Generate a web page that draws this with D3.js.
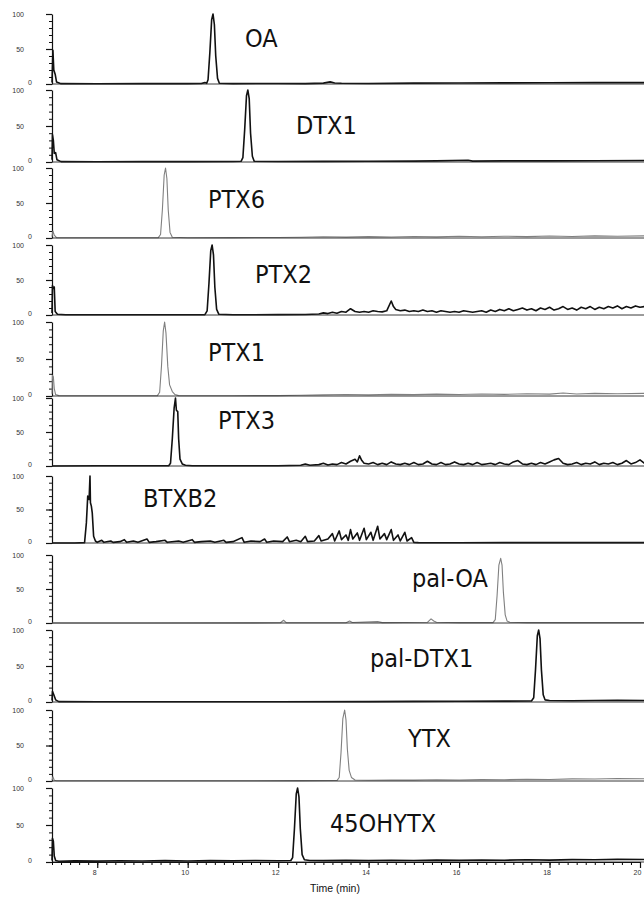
<!DOCTYPE html>
<html>
<head>
<meta charset="utf-8">
<script src="https://cdn.jsdelivr.net/npm/d3@7"></script>
<style>
  body { margin: 0; background: #fff; }
  svg { display: block; }
  .tickText { font-family: "Liberation Sans", Arial, sans-serif; font-size: 7px; fill: #333; }
  .compound { font-family: "DejaVu Sans Condensed", "DejaVu Sans", sans-serif; font-stretch: condensed; font-size: 25px; fill: #111; }
  .axisTitle { font-family: "Liberation Sans", Arial, sans-serif; font-size: 10.5px; fill: #111; }
</style>
</head>
<body>
<div id="chart"></div>
<script>
////////// DATA //////////
const compounds = ['OA', 'DTX1', 'PTX6', 'PTX2', 'PTX1', 'PTX3', 'BTXB2', 'pal-OA', 'pal-DTX1', 'YTX', '45OHYTX']
const traceTone = ['dark', 'dark', 'light', 'dark', 'light', 'dark', 'dark', 'light', 'dark', 'light', 'dark']
const xTicks = [8, 10, 12, 14, 16, 18, 20]
const yTicks = [0, 50, 100]

// [time (min), relative intensity (%)]
const oaTrace = [[7.00,2],[7.02,48],[7.04,20],[7.07,14],[7.10,3],[7.20,0.5],[8.0,0.4],[9.0,0.5],[10.0,0.6],[10.30,0.8],[10.38,2],[10.42,1],
  [10.45,6],[10.49,45],[10.53,92],[10.56,100],[10.59,85],[10.62,40],[10.66,8],[10.70,1],[11.0,0.5],[12.0,0.8],[12.6,0.6],[13.0,1.2],
  [13.15,3],[13.25,1.5],[13.4,1],[14.0,0.8],[15.0,1.2],[16.0,1.4],[17.0,1.6],[18.0,1.8],[19.0,2],[20.1,2]]

const dtx1Trace = [[7.00,3],[7.01,38],[7.03,30],[7.05,12],[7.08,13],[7.11,3],[7.2,0.5],[8,0.4],[9,0.5],[10,0.5],[11.0,0.6],[11.18,1],
  [11.22,6],[11.26,45],[11.30,92],[11.33,100],[11.36,88],[11.39,40],[11.43,8],[11.47,1],[12,0.6],[13,0.8],[14,1],[15,1.2],[15.5,1.5],
  [16.2,2.5],[16.3,1.2],[17,1.5],[18,1.6],[19,1.8],[20.1,2]]

const ptx6Trace = [[7.00,2],[7.02,10],[7.05,4],[7.1,0.5],[8,0.3],[9,0.4],[9.35,0.5],[9.40,5],[9.44,40],[9.48,90],[9.51,100],[9.54,85],
  [9.57,40],[9.61,8],[9.66,1],[10,0.4],[11,0.5],[12,0.8],[12.5,1],[13,1.8],[13.5,1.2],[14,2],[14.5,1.4],[15,2.2],[15.5,1.6],[16,2.4],
  [16.5,1.8],[17,2.6],[17.5,2],[18,2.8],[18.5,2.2],[19,3],[19.5,2.4],[20.1,3]]

const ptx2Trace = [[7.00,3],[7.01,42],[7.03,38],[7.05,40],[7.07,5],[7.12,1],[7.3,0.4],[8,0.3],[9,0.4],[10,0.4],[10.38,0.6],[10.43,6],
  [10.47,45],[10.51,92],[10.54,100],[10.57,86],[10.60,40],[10.64,8],[10.69,1],[11,0.4],[12,0.5],[12.6,0.8],[12.9,1.5],[13.0,3],[13.1,2],
  [13.2,4],[13.3,2.5],[13.4,5],[13.5,4],[13.6,9],[13.7,5],[13.8,4],[13.9,5],[14.0,4],[14.1,6],[14.2,5],[14.3,4.5],[14.4,6],[14.5,20],
  [14.55,12],[14.6,8],[14.7,6],[14.8,7],[14.9,5],[15.0,6],[15.1,5],[15.2,7],[15.3,5],[15.4,6],[15.5,4],[15.6,6],[15.7,5],[15.8,4],
  [15.9,5],[16.0,4],[16.1,6],[16.2,5],[16.3,4],[16.4,5],[16.5,6],[16.6,4],[16.7,7],[16.8,5],[16.9,8],[17.0,6],[17.1,9],[17.2,6],
  [17.3,8],[17.4,10],[17.5,7],[17.6,9],[17.7,6],[17.8,10],[17.9,8],[18.0,11],[18.1,7],[18.2,9],[18.3,12],[18.4,8],[18.5,10],[18.6,7],
  [18.7,11],[18.8,9],[18.9,12],[19.0,8],[19.1,11],[19.2,9],[19.3,12],[19.4,10],[19.5,13],[19.6,9],[19.7,12],[19.8,10],[19.9,13],
  [20.0,11],[20.1,12]]

const ptx1Trace = [[7.00,3],[7.01,28],[7.03,26],[7.05,10],[7.08,2],[7.15,0.5],[8,0.3],[9,0.3],[9.33,0.5],[9.38,5],[9.42,40],[9.46,88],
  [9.49,100],[9.52,85],[9.56,40],[9.60,15],[9.66,6],[9.72,2],[9.8,0.5],[10,0.3],[11,0.4],[12,0.5],[12.5,1],[13,1.5],[13.5,2],[14,1.5],
  [14.5,2.2],[15,1.8],[15.5,2.5],[16,2],[16.5,2.8],[17,2.2],[17.5,3],[18,2.5],[18.3,4],[18.6,2.8],[19,3.5],[19.5,3],[20.1,3.5]]

const ptx3Trace = [[7.00,0],[8,0.3],[9,0.3],[9.58,0.5],[9.62,4],[9.66,40],[9.70,85],[9.73,100],[9.75,82],[9.78,80],[9.80,40],[9.83,10],
  [9.88,3],[9.95,1],[10.1,0.3],[11,0.3],[12,0.4],[12.5,1],[12.6,3],[12.7,1],[12.9,2],[13.0,4],[13.1,1.5],[13.2,3],[13.3,2],[13.4,5],
  [13.5,3],[13.6,7],[13.7,10],[13.75,6],[13.8,15],[13.85,8],[13.9,4],[14.0,3],[14.1,5],[14.2,2],[14.3,4],[14.4,2],[14.5,6],[14.6,3],
  [14.7,2],[14.8,4],[14.9,2],[15.0,5],[15.1,2],[15.2,3],[15.3,7],[15.4,3],[15.5,2],[15.6,5],[15.7,2],[15.8,3],[15.9,6],[16.0,3],
  [16.1,2],[16.2,4],[16.3,2],[16.4,5],[16.5,2],[16.6,3],[16.7,4],[16.8,2],[16.9,5],[17.0,3],[17.1,2],[17.2,6],[17.3,8],[17.4,3],
  [17.5,2],[17.6,4],[17.7,2],[17.8,5],[17.9,3],[18.0,6],[18.1,9],[18.2,11],[18.3,4],[18.4,2],[18.5,3],[18.6,5],[18.7,2],[18.8,4],
  [18.9,3],[19.0,6],[19.1,2],[19.2,4],[19.3,3],[19.4,5],[19.5,2],[19.6,4],[19.7,8],[19.8,3],[19.9,5],[20.0,9],[20.1,4]]

const btxb2Trace = [[7.00,0],[7.5,0],[7.72,0.5],[7.76,30],[7.79,70],[7.82,65],[7.84,100],[7.85,60],[7.87,55],[7.89,45],[7.92,10],[7.96,3],
  [8.0,1],[8.1,4],[8.15,1],[8.3,3],[8.35,1],[8.5,2],[8.6,5],[8.65,1],[8.8,3],[8.9,1],[9.1,6],[9.15,1],[9.3,2],[9.5,4],[9.55,1],[9.8,3],
  [9.9,1],[10.1,5],[10.15,1],[10.3,2],[10.5,3],[10.6,1],[10.8,4],[10.85,1],[11.0,2],[11.2,8],[11.25,1],[11.4,3],[11.6,2],[11.7,6],
  [11.75,1],[11.9,3],[12.1,2],[12.2,9],[12.25,2],[12.4,4],[12.5,2],[12.6,10],[12.65,2],[12.8,3],[12.9,11],[12.95,3],[13.1,6],[13.2,14],
  [13.25,3],[13.35,18],[13.4,5],[13.5,12],[13.55,4],[13.6,20],[13.65,6],[13.75,15],[13.8,4],[13.9,22],[13.95,5],[14.05,16],[14.1,4],
  [14.2,25],[14.25,6],[14.35,14],[14.4,5],[14.5,20],[14.55,4],[14.65,12],[14.7,3],[14.8,16],[14.85,3],[14.95,8],[15.0,1],[15.1,0.5],
  [16,0.4],[17,0.5],[18,0.5],[19,0.6],[20.1,0.6]]

const palOaTrace = [[7.0,0],[9,0],[12.05,0.3],[12.12,4],[12.18,0.5],[13.5,0.4],[13.58,3],[13.64,0.8],[14.2,2],[14.3,0.5],[15.3,1],
  [15.38,6],[15.44,3],[15.5,1],[16.0,0.5],[16.75,0.6],[16.80,5],[16.84,40],[16.88,85],[16.92,95],[16.95,85],[16.98,45],[17.02,12],
  [17.06,3],[17.12,1],[17.5,0.5],[18,0.5],[19,0.5],[20.1,0.5]]

const palDtx1Trace = [[7.0,2],[7.01,15],[7.04,10],[7.08,3],[7.15,0.5],[8,0.3],[10,0.3],[12,0.4],[14,0.5],[15,0.8],[16,1],[17,1.2],
  [17.6,1.5],[17.65,6],[17.69,45],[17.73,92],[17.76,100],[17.79,88],[17.82,45],[17.86,10],[17.9,3],[18.0,2],[18.5,1.8],[19,2],
  [19.5,2.2],[20.1,2]]

const ytxTrace = [[7.0,1],[7.02,6],[7.05,1],[7.1,0.3],[9,0.3],[11,0.4],[12.5,0.5],[13.3,0.6],[13.35,5],[13.39,40],[13.43,88],[13.47,100],
  [13.50,86],[13.53,45],[13.57,15],[13.62,5],[13.7,1.5],[14,1],[14.5,1.5],[15,1.2],[15.5,1.8],[16,1.5],[16.5,2],[17,1.8],[17.5,2.5],
  [18,2.2],[18.5,3],[19,2.8],[19.5,3.5],[20.1,3.2]]

const ohytxTrace = [[7.0,2],[7.01,32],[7.03,28],[7.05,8],[7.08,2],[7.15,1],[7.5,1.5],[8,1.2],[8.5,1.6],[9,1.3],[9.5,1.8],[10,1.4],
  [10.5,1.8],[11,1.5],[11.5,2],[12,1.6],[12.28,2],[12.32,6],[12.36,45],[12.40,92],[12.43,100],[12.46,88],[12.49,45],[12.53,10],
  [12.58,3],[12.7,2],[13,1.8],[13.5,2.2],[14,1.8],[14.5,2.4],[15,2],[15.5,2.6],[16,2.2],[16.5,2.8],[17,2.4],[17.5,3],[18,2.6],
  [18.5,3.2],[19,3],[19.5,3.6],[20.1,3.4]]

const traces = [oaTrace, dtx1Trace, ptx6Trace, ptx2Trace, ptx1Trace, ptx3Trace, btxb2Trace, palOaTrace, palDtx1Trace, ytxTrace, ohytxTrace]

////////// LAYOUT //////////
const width = 644
const height = 903
const panelTop = [14, 90, 168, 245, 322, 398, 476, 555, 630, 710, 788]
const panelBase = [84, 162, 238, 315, 396, 466, 543, 623, 702, 781, 862]
const labelPos = [[245, 47], [296, 134], [208, 208], [255, 283], [208, 361], [218, 429], [143, 507], [412, 587], [370, 667], [408, 747], [330, 832]]
const toneColor = { dark: '#111', light: '#808080' }
const toneWidth = { dark: 1.6, light: 1.1 }

const x = d3.scaleLinear().domain([7, 20]).range([52, 640])

const svg = d3.select('#chart').append('svg')
  .attr('width', width)
  .attr('height', height)

compounds.forEach(function (name, i) {
  const y = d3.scaleLinear().domain([0, 100]).range([panelBase[i], panelTop[i]])
  const g = svg.append('g').attr('class', 'panel')

  // minor y ticks every 10
  g.append('g')
    .attr('transform', 'translate(' + x(7) + ',0)')
    .call(d3.axisLeft(y).tickValues(d3.range(0, 101, 10)).tickSize(3).tickSizeOuter(0).tickFormat(''))
    .call(function (a) { a.select('.domain').remove() })

  // major y ticks with labels, set well left of the axis as in the scan
  const yAxis = g.append('g')
    .attr('transform', 'translate(' + x(7) + ',0)')
    .call(d3.axisLeft(y).tickValues(yTicks).tickSize(6).tickSizeOuter(0).tickPadding(22))
  yAxis.selectAll('text').attr('class', 'tickText').attr('font-size', null).attr('font-family', null)
  yAxis.selectAll('.tick').filter(function (d) { return d === 0 }).select('text')
    .attr('dx', 8).attr('dy', '0.1em')
  yAxis.selectAll('line, path').attr('stroke', '#111').attr('stroke-width', 1.2)
  g.selectAll('.tick line').attr('stroke', '#111')

  // chromatogram trace
  const line = d3.line()
    .x(function (d) { return x(d[0]) })
    .y(function (d) { return y(d[1]) })
  g.append('path')
    .datum(traces[i])
    .attr('fill', 'none')
    .attr('stroke', toneColor[traceTone[i]])
    .attr('stroke-width', toneWidth[traceTone[i]])
    .attr('stroke-linejoin', 'round')
    .attr('d', line)

  // baseline
  g.append('line')
    .attr('x1', x(7)).attr('x2', width)
    .attr('y1', y(0)).attr('y2', y(0))
    .attr('stroke', '#222').attr('stroke-width', 0.9)

  g.append('text')
    .attr('class', 'compound')
    .attr('x', labelPos[i][0])
    .attr('y', labelPos[i][1])
    .text(name)
})

////////// TIME AXIS //////////
const lastBase = panelBase[panelBase.length - 1]
svg.append('g')
  .attr('transform', 'translate(0,' + lastBase + ')')
  .call(d3.axisBottom(x).tickValues(d3.range(7, 20.01, 0.2)).tickSize(3).tickSizeOuter(0).tickFormat(''))
  .call(function (a) { a.select('.domain').remove() })

const xAxis = svg.append('g')
  .attr('transform', 'translate(0,' + lastBase + ')')
  .call(d3.axisBottom(x).tickValues(xTicks).tickSize(6).tickSizeOuter(0).tickPadding(2))
xAxis.selectAll('text').attr('class', 'tickText').attr('font-size', null).attr('font-family', null).attr('dx', -3)
xAxis.selectAll('line, path').attr('stroke', '#111').attr('stroke-width', 1.2)

svg.append('text')
  .attr('class', 'axisTitle')
  .attr('x', 335)
  .attr('y', 892)
  .attr('text-anchor', 'middle')
  .text('Time (min)')
</script>
</body>
</html>
